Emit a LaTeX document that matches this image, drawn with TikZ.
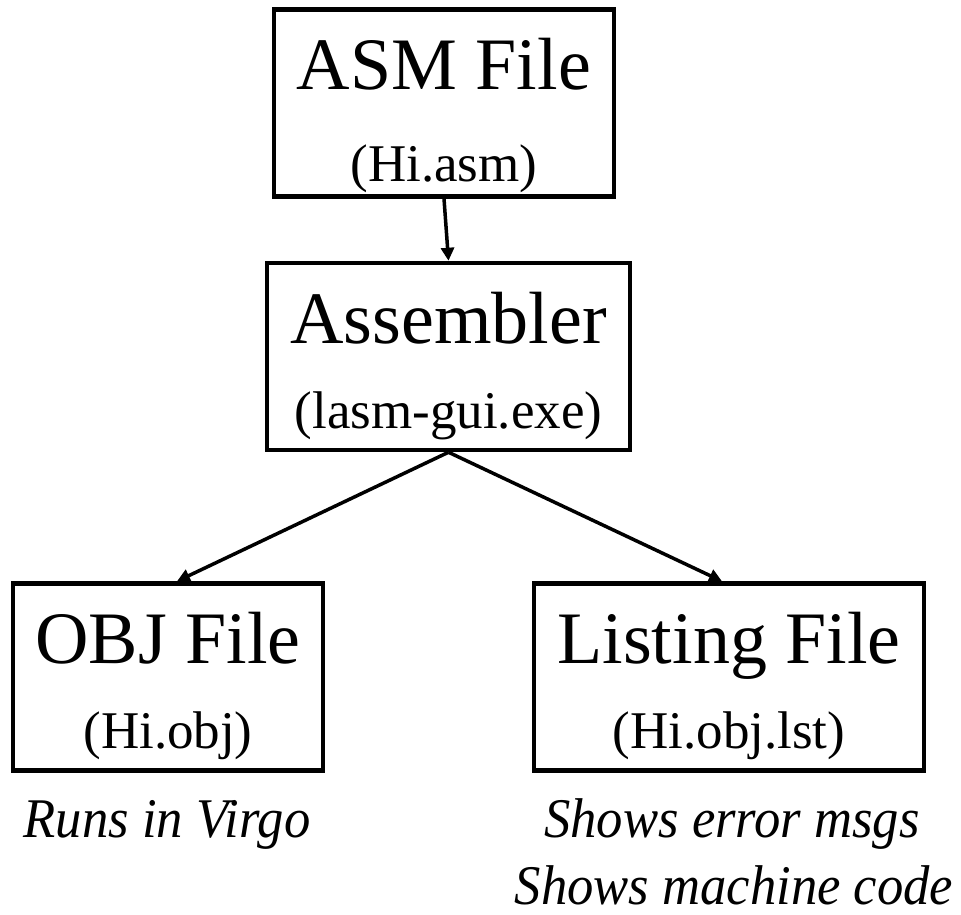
\documentclass[tikz,border=0pt]{standalone}
\usepackage{fontspec}
\setmainfont{Liberation Serif}
\usepackage{tikz}
\usetikzlibrary{arrows.meta,positioning}

\newcommand{\boxlines}[3][0pt]{\rule{0pt}{80pt}{\fontsize{74}{85}\selectfont #2}\\[#1]\rule[-\dimexpr22pt-#1\relax]{0pt}{\dimexpr22pt-#1\relax}#3}
\newcommand{\notetext}[1]{\scalebox{0.94}[1]{\itshape #1}}

\begin{document}
\begin{tikzpicture}[x=1pt, y=-1pt,
    filebox/.style={draw, line width=4.5pt, inner sep=0pt, align=center,
                    font=\fontsize{53}{85}\selectfont},
    note/.style={anchor=base, inner sep=0pt, font=\fontsize{56}{60}\selectfont},
    >={Triangle[length=13pt,width=13pt]}]
\useasboundingbox (0,0) rectangle (961,915);
\node[filebox, minimum width=340pt] (asmfile)   at (444,103)     {\boxlines[7pt]{ASM File}{(Hi.asm)}};
\node[filebox, minimum width=363pt] (assembler) at (448.5,356.5) {\boxlines{Assembler}{(lasm-gui.exe)}};
\node[filebox, minimum width=310pt] (objfile)   at (168,677)     {\boxlines{OBJ File}{(Hi.obj)}};
\node[filebox, minimum width=390pt] (lstfile)   at (729,677)     {\boxlines{Listing File}{(Hi.obj.lst)}};
\node[note] (runs)     at (167,837) {\notetext{Runs in Virgo}};
\node[note] (errmsgs)  at (732,837) {\notetext{Shows error msgs}};
\node[note] (machcode) at (734,904) {\notetext{Shows machine code}};
\path[->, line width=3.5pt]
    (asmfile.south)   edge (assembler.north)
    (assembler.south) edge ([xshift=9pt]objfile.north)
    (assembler.south) edge ([xshift=-7pt]lstfile.north)
; %-path-%
\end{tikzpicture}
\end{document}
